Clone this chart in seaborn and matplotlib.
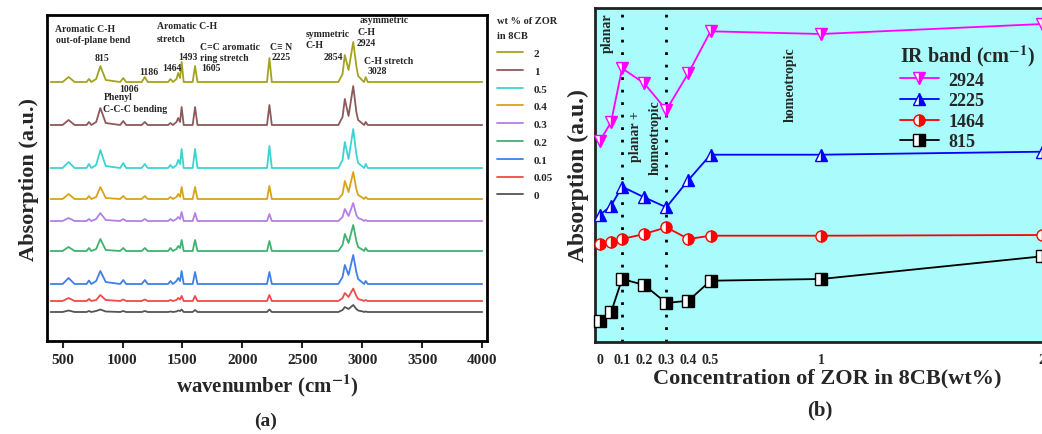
import numpy as np
import pandas as pd
import seaborn as sns
import matplotlib.pyplot as plt
from matplotlib.lines import Line2D

sns.set_theme(style="ticks")
plt.rcParams['font.family'] = ['Liberation Serif', 'DejaVu Serif']
plt.rcParams['font.weight'] = 'bold'
plt.rcParams['axes.labelweight'] = 'bold'
plt.rcParams['mathtext.fontset'] = 'stix'

# ---- panel (a): IR spectra, key points ----
wavenumber = [400, 500, 550, 600, 700, 720, 740, 780, 815, 860, 980, 1006, 1030,
              1160, 1186, 1210, 1380, 1400, 1420, 1450, 1464, 1480, 1493, 1510,
              1585, 1605, 1625, 2205, 2225, 2245, 2800, 2835, 2854, 2885, 2924,
              2950, 2965, 3005, 3015, 3028, 3045, 4000]

conc_labels = ['2', '1', '0.5', '0.4', '0.3', '0.2', '0.1', '0.05', '0']
offsets = [259, 216, 173, 142, 120, 90, 57, 40, 29]

abs_2 = [0, 0, 5, 0, 0, 3, 0, 3, 16, 2, 0, 4, 0, 0, 5, 0, 0, 3, 0, 3, 9, 4, 20, 0,
         0, 16, 0, 0, 24, 0, 0, 8, 27, 12, 40, 16, 6, 1, 0, 5, 0, 0]
abs_1 = [0, 0, 5, 0, 0, 3, 0, 3, 17, 2, 0, 4, 0, 0, 3, 0, 0, 2, 0, 3, 7, 3, 18, 0,
         0, 18, 0, 0, 20, 0, 0, 8, 26, 9, 39, 13, 5, 1, 0, 3, 0, 0]
abs_05 = [0, 0, 6, 0, 0, 4, 0, 3, 18, 2, 0, 5, 0, 0, 4, 0, 0, 3, 0, 3, 8, 4, 19, 0,
          0, 19, 0, 0, 22, 0, 0, 8, 26, 9, 39, 14, 5, 1, 0, 4, 0, 0]
abs_04 = [0, 0, 5, 0, 0, 3, 0, 2, 12, 1, 0, 3, 0, 0, 3, 0, 0, 2, 0, 2, 5, 2, 12, 0,
          0, 12, 0, 0, 13, 0, 0, 5, 18, 7, 27, 10, 4, 1, 0, 2, 0, 0]
abs_03 = [0, 0, 3, 0, 0, 2, 0, 2, 8, 1, 0, 2, 0, 0, 2, 0, 0, 2, 0, 2, 4, 2, 9, 0,
          0, 8, 0, 0, 7, 0, 0, 4, 12, 5, 18, 6, 3, 1, 0, 1, 0, 0]
abs_02 = [0, 0, 4, 0, 0, 3, 0, 2, 12, 1, 0, 3, 0, 0, 3, 0, 0, 3, 0, 2, 5, 3, 11, 0,
          0, 11, 0, 0, 10, 0, 0, 6, 17, 8, 26, 10, 4, 1, 0, 3, 0, 0]
abs_01 = [0, 0, 6, 0, 0, 3.5, 0, 3, 13, 2, 0, 4, 0, 0, 4, 0, 0, 3, 0, 3, 6, 3, 13, 0,
          0, 12, 0, 0, 12, 0, 0, 7, 19, 9, 29, 12, 5, 1, 0, 3, 0, 0]
abs_005 = [0, 0, 3, 0, 0, 2, 0, 1, 6, 1, 0, 1.5, 0, 0, 1.5, 0, 0, 1, 0, 1, 3, 1.5, 5, 0,
           0, 5, 0, 0, 6, 0, 0, 3, 8, 4, 12.5, 5, 2, 0.5, 0, 1, 0, 0]
abs_0 = [0, 0, 1.5, 0, 0, 1, 0, 1, 2.5, 0.5, 0, 1, 0, 0, 1, 0, 0, 0.5, 0, 0.5, 1.5, 1, 2.5, 0,
         0, 2, 0, 0, 2.5, 0, 0, 2, 5, 3, 7, 3, 1.5, 0.5, 0, 0.5, 0, 0]
spectra = [abs_2, abs_1, abs_05, abs_04, abs_03, abs_02, abs_01, abs_005, abs_0]

spec_colors = ['#a3a321', '#8c5a5a', '#3ed3d3', '#d9a21b', '#b57fe6',
               '#3fb26f', '#3f80e6', '#f24a4a', '#555555']

# ---- panel (b): band intensities vs concentration ----
conc = [0, 0.05, 0.1, 0.2, 0.3, 0.4, 0.5, 1, 2]
band_2924 = [201.3, 219.7, 273.7, 258.7, 232, 269, 310.7, 308, 318]
band_2225 = [127, 136.3, 155.3, 144.7, 134.7, 162, 187.3, 187.3, 190.3]
band_1464 = [98, 99.7, 103, 108, 114.7, 103, 106.3, 106.3, 107]
band_815 = [20.7, 29.7, 63, 57, 39, 41.3, 61.3, 63, 85.7]

rows = []
for lab, off, sp in zip(conc_labels, offsets, spectra):
    for w, a in zip(wavenumber, sp):
        rows.append({'wn': w, 'A': a + off, 'wt': lab})
df_a = pd.DataFrame(rows)

fig = plt.figure(figsize=(10.42, 4.35), dpi=100)
ax1 = fig.add_axes([0.0451, 0.2138, 0.4223, 0.7494])
ax2 = fig.add_axes([0.571, 0.2115, 0.4463, 0.7678])

sns.lineplot(data=df_a, x='wn', y='A', hue='wt', hue_order=conc_labels,
             palette=spec_colors, sort=False, estimator=None, lw=1.3, ax=ax1)
ax1.set_xlim(370, 4040)
ax1.set_ylim(0, 326)
ax1.set_yticks([])
ax1.set_xticks(range(500, 4001, 500))
ax1.tick_params(axis='x', labelsize=11, width=1.5, length=5, direction='out')
for s in ax1.spines.values():
    s.set_linewidth(2)
    s.set_color('black')
ax1.set_xlabel('wavenumber (cm$^{\\mathbf{-1}}$)', fontsize=15, labelpad=4)
ax1.set_ylabel('Absorption (a.u.)', fontsize=16, labelpad=6)
leg = ax1.legend(title='wt % of ZOR\nin 8CB', loc='upper left',
                 bbox_to_anchor=(1.0, 1.028), frameon=False, fontsize=8,
                 title_fontsize=7.5, handlelength=2.3, labelspacing=0.72,
                 handletextpad=1.0)
leg._legend_box.align = 'left'
for t in leg.get_texts():
    t.set_fontweight('bold')
leg.get_title().set_fontweight('bold')
leg.get_title().set_linespacing(1.9)

notes = [
    (433, 313, 'Aromatic C-H'), (445, 302, 'out-of-plane bend'), (770, 284, '815'),
    (970, 253, '1006'), (840, 245, 'Phenyl'), (835, 233, 'C-C-C bending'),
    (1140, 270, '1186'), (1285, 316, 'Aromatic C-H'), (1285, 303, 'stretch'),
    (1465, 285, '1493'), (1330, 274, '1464'), (1648, 295, 'C=C aromatic'),
    (1648, 284, 'ring stretch'), (1660, 274, '1605'), (2229, 295, 'C≡ N'),
    (2240, 285, '2225'), (2525, 308, 'symmetric'), (2525, 297, 'C-H'),
    (2680, 285, '2854'), (2975, 322, 'asymmetric'), (2958, 310, 'C-H'),
    (2950, 299, '2924'), (3015, 281, 'C-H stretch'), (3040, 271, '3028'),
]
for x, y, s in notes:
    ax1.text(x, y, s, fontsize=7, fontweight='bold', va='center', ha='left')

fig.text(0.255, 0.02, '(a)', fontsize=14, fontweight='bold', ha='center')

# panel (b)
ax2.set_facecolor('#aafcfc')
bands = [('2924', band_2924, '#ff00ff', 'v'), ('2225', band_2225, '#0000ff', '^'),
         ('1464', band_1464, '#ff0000', 'o'), ('815', band_815, '#000000', 's')]
handles = []
for name, vals, col, mk in bands:
    sns.lineplot(x=conc, y=vals, color=col, lw=1.3, ax=ax2, sort=False,
                 estimator=None, marker=mk, ms=8, mec=col, mfc=col,
                 fillstyle='right', markerfacecoloralt='white', mew=1.0,
                 clip_on=False, zorder=3)
    handles.append(Line2D([], [], color=col, lw=1.3, marker=mk, ms=8, mec=col,
                          mfc=col, fillstyle='right', markerfacecoloralt='white'))
for xv in [0.1, 0.3]:
    ax2.axvline(xv, color='black', ls=(0, (1, 3.5)), lw=2, zorder=2)
ax2.set_xlim(-0.0226, 2.08)
ax2.set_ylim(0, 334)
ax2.set_yticks([])
ax2.set_xticks([0, 0.1, 0.2, 0.3, 0.4, 0.5, 1, 2])
ax2.set_xticklabels(['0', '0.1', '0.2', '0.3', '0.4', '0.5', '1', '2'])
ax2.tick_params(axis='x', labelsize=10, length=0, pad=8)
for s in ax2.spines.values():
    s.set_linewidth(2)
    s.set_color('#222222')
ax2.set_xlabel('Concentration of ZOR in 8CB(wt%)', fontsize=16, labelpad=1)
ax2.set_ylabel('Absorption (a.u.)', fontsize=17, labelpad=4)

for x, y, s in [(0.035, 310, 'planar'), (0.16, 206, 'planar +'),
                (0.25, 205, 'homeotropic'), (0.86, 258, 'homeotropic')]:
    ax2.text(x, y, s, rotation=90, fontsize=10, fontweight='bold',
             ha='center', va='center')

leg2 = ax2.legend(handles, ['2924', '2225', '1464', '815'],
                  title='IR band (cm$^{\\mathbf{-1}}$)', loc='upper left',
                  bbox_to_anchor=(0.62, 0.945), frameon=False, fontsize=13,
                  title_fontsize=14.5, handlelength=2.2, labelspacing=0.2,
                  handletextpad=0.5)
leg2._legend_box.align = 'left'
for t in leg2.get_texts():
    t.set_fontweight('bold')
leg2.get_title().set_fontweight('bold')

fig.text(0.787, 0.045, '(b)', fontsize=15, fontweight='bold', ha='center')

fig.savefig('out.png', dpi=100)
